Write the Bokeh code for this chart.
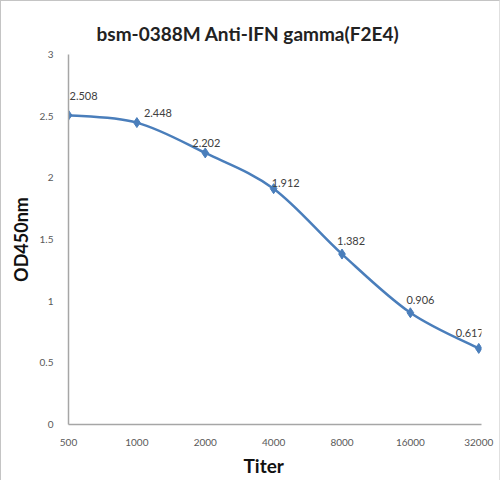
from bokeh.plotting import figure
from bokeh.models import FixedTicker, Range1d, ColumnDataSource, LabelSet, Title
from bokeh.embed import file_html
from bokeh.resources import INLINE
from bokeh.core.properties import value

titers = ["500", "1000", "2000", "4000", "8000", "16000", "32000"]
od_values = [2.508, 2.448, 2.202, 1.912, 1.382, 0.906, 0.617]
y_ticks = [0, 0.5, 1, 1.5, 2, 2.5, 3]
y_tick_labels = ["0", "0.5", "1", "1.5", "2", "2.5", "3"]

# style: per-label nudges (pixels)
label_dx = [1, 7, -13, -2, -5, -4, -23]
label_dy = [19, 10, 10, 6, 13, 13, 15]

FONT = "Lato"
BLUE = "#4a7ebb"

xs = list(range(len(titers)))

p = figure(width=500, height=480, output_backend="svg", toolbar_location=None,
           x_range=Range1d(0, 6.04), y_range=Range1d(0, 3),
           min_border_left=67, min_border_right=20, min_border_top=53, min_border_bottom=57)
p.styles = {"border-top": "1px solid #c4c4c4", "border-left": "1px solid #c4c4c4",
            "border-right": "1px solid #e0e0e0"}

p.title.text = "bsm-0388M  Anti-IFN gamma(F2E4)"
p.title.align = "left"
p.title.offset = 28
p.title.text_font = FONT
p.title.text_font_size = "19px"
p.title.text_font_style = "bold"
p.title.text_color = "#222222"
p.title.standoff = 16
p.title.vertical_align = "top"

p.xgrid.visible = False
p.ygrid.visible = False
p.outline_line_color = None

for ax in (p.xaxis, p.yaxis):
    ax.major_tick_line_color = None
    ax.minor_tick_line_color = None
    ax.axis_line_color = "#a6a6a6"
    ax.axis_line_width = 1.5
    ax.major_label_text_font = FONT
    ax.major_label_text_font_size = "10px"
    ax.major_label_text_color = "#595959"
    ax.axis_label_text_font = FONT
    ax.axis_label_text_font_style = "bold"
    ax.axis_label_text_color = "#111111"

p.xaxis.ticker = FixedTicker(ticks=xs)
p.xaxis.major_label_overrides = {i: t for i, t in enumerate(titers)}
p.xaxis.major_label_standoff = 8

p.yaxis.ticker = FixedTicker(ticks=y_ticks)
p.yaxis.major_label_overrides = {t: l for t, l in zip(y_ticks, y_tick_labels)}
p.yaxis.axis_label = "OD450nm"
p.yaxis.axis_label_text_font_size = "18px"
p.yaxis.major_label_standoff = 9
p.yaxis.axis_label_standoff = 5

p.add_layout(Title(text="Titer", align="left", offset=175, standoff=7,
                   text_font=FONT, text_font_size="19px", text_font_style="bold",
                   text_color="#111111"), "below")

# smooth curve (Catmull-Rom -> cubic Bezier) derived from the data
n = len(xs)
x0, y0, x1, y1, cx0, cy0, cx1, cy1 = [], [], [], [], [], [], [], []
for i in range(n - 1):
    im = max(i - 1, 0)
    ip2 = min(i + 2, n - 1)
    x0.append(xs[i]); y0.append(od_values[i])
    x1.append(xs[i + 1]); y1.append(od_values[i + 1])
    cx0.append(xs[i] + (xs[i + 1] - xs[im]) / 6)
    cy0.append(od_values[i] + (od_values[i + 1] - od_values[im]) / 6)
    cx1.append(xs[i + 1] - (xs[ip2] - xs[i]) / 6)
    cy1.append(od_values[i + 1] - (od_values[ip2] - od_values[i]) / 6)
p.bezier(x0=x0, y0=y0, x1=x1, y1=y1, cx0=cx0, cy0=cy0, cx1=cx1, cy1=cy1,
         line_color=BLUE, line_width=2.5)

src = ColumnDataSource(dict(x=xs, y=od_values, lbl=[f"{v:.3f}" for v in od_values],
                            dx=label_dx, dy=label_dy))
p.scatter("x", "y", source=src, marker="diamond", size=10, fill_color=BLUE, line_color=BLUE)
p.add_layout(LabelSet(x="x", y="y", text="lbl", source=src, x_offset="dx", y_offset="dy",
                      text_font=value(FONT), text_font_size=value("11px"),
                      text_color=value("#404040"),
                      text_align=value("left"), text_baseline=value("middle")))

open("out.html", "w").write(file_html(p, INLINE))
